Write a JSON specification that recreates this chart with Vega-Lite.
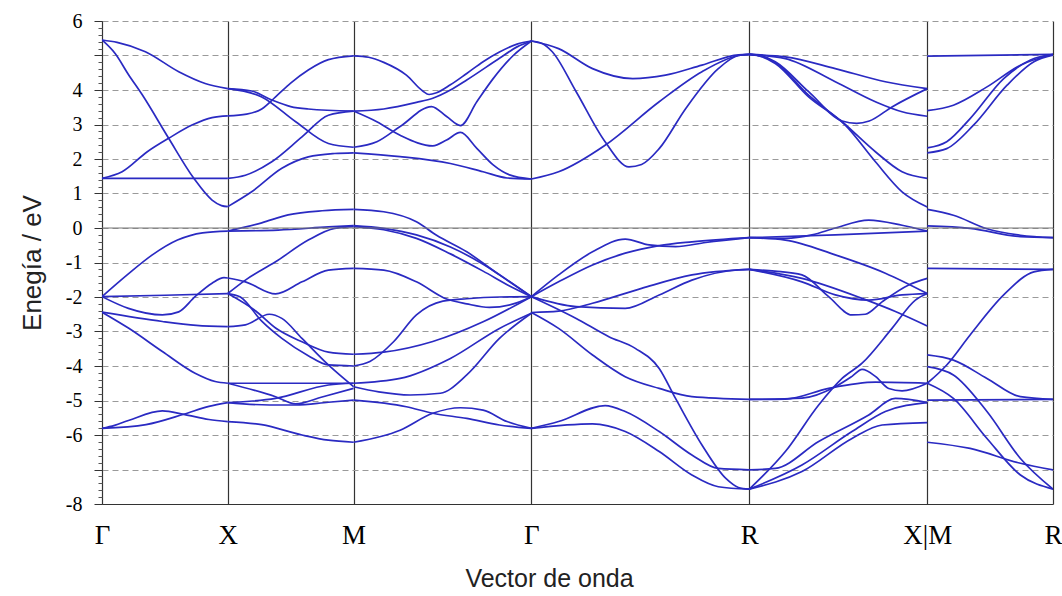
{
"$schema": "https://vega.github.io/schema/vega-lite/v6.json",
"width": 951, "height": 483,
"autosize": {"type": "none"},
"padding": {"left": 102, "top": 21, "right": 9, "bottom": 92},
"background": "white",
"config": {"view": {"stroke": null}},
"datasets": {"bands": [
{"b":"1a","k":0,"e":5.45},{"b":"1a","k":0.12,"e":5.38},{"b":"1a","k":0.345,"e":5.11},{"b":"1a","k":0.61,"e":4.53},{"b":"1a","k":0.82,"e":4.19},{"b":"1a","k":1,"e":4.04},
{"b":"1b","k":0,"e":5.45},{"b":"1b","k":0.106,"e":5.05},{"b":"1b","k":0.21,"e":4.45},{"b":"1b","k":0.32,"e":3.86},{"b":"1b","k":0.53,"e":2.6},{"b":"1b","k":0.73,"e":1.44},{"b":"1b","k":0.875,"e":0.81},{"b":"1b","k":0.95,"e":0.65},{"b":"1b","k":1,"e":0.62},
{"b":"1c","k":0,"e":1.44},{"b":"1c","k":0.16,"e":1.63},{"b":"1c","k":0.36,"e":2.21},{"b":"1c","k":0.53,"e":2.6},{"b":"1c","k":0.72,"e":2.99},{"b":"1c","k":0.875,"e":3.2},{"b":"1c","k":1,"e":3.25},
{"b":"1d","k":0,"e":1.44},{"b":"1d","k":1,"e":1.44},
{"b":"1e","k":0,"e":-1.99},{"b":"1e","k":0.2,"e":-1.36},{"b":"1e","k":0.4,"e":-0.78},{"b":"1e","k":0.6,"e":-0.35},{"b":"1e","k":0.8,"e":-0.14},{"b":"1e","k":1,"e":-0.09},
{"b":"1f","k":0,"e":-1.99},{"b":"1f","k":0.5,"e":-1.95},{"b":"1f","k":1,"e":-1.9},
{"b":"1g","k":0,"e":-1.99},{"b":"1g","k":0.21,"e":-2.33},{"b":"1g","k":0.48,"e":-2.52},{"b":"1g","k":0.61,"e":-2.43},{"b":"1g","k":0.74,"e":-1.99},{"b":"1g","k":0.875,"e":-1.6},{"b":"1g","k":0.97,"e":-1.44},{"b":"1g","k":1,"e":-1.45},
{"b":"1h","k":0,"e":-2.44},{"b":"1h","k":0.48,"e":-2.71},{"b":"1h","k":0.75,"e":-2.82},{"b":"1h","k":1,"e":-2.86},
{"b":"1i","k":0,"e":-2.44},{"b":"1i","k":0.21,"e":-2.9},{"b":"1i","k":0.48,"e":-3.58},{"b":"1i","k":0.74,"e":-4.21},{"b":"1i","k":0.9,"e":-4.45},{"b":"1i","k":1,"e":-4.5},
{"b":"1j","k":0,"e":-5.81},{"b":"1j","k":0.1,"e":-5.72},{"b":"1j","k":0.21,"e":-5.58},{"b":"1j","k":0.48,"e":-5.3},{"b":"1j","k":0.65,"e":-5.4},{"b":"1j","k":0.85,"e":-5.55},{"b":"1j","k":1,"e":-5.61},
{"b":"1k","k":0,"e":-5.81},{"b":"1k","k":0.35,"e":-5.7},{"b":"1k","k":0.65,"e":-5.4},{"b":"1k","k":0.85,"e":-5.17},{"b":"1k","k":1,"e":-5.06},
{"b":"2U1","k":1,"e":4.04},{"b":"2U1","k":1.19,"e":3.97},{"b":"2U1","k":1.35,"e":3.71},{"b":"2U1","k":1.5,"e":3.52},{"b":"2U1","k":1.64,"e":3.45},{"b":"2U1","k":2,"e":3.39},
{"b":"2U2","k":1,"e":4.04},{"b":"2U2","k":1.27,"e":3.8},{"b":"2U2","k":1.54,"e":3.08},{"b":"2U2","k":1.8,"e":2.45},{"b":"2U2","k":2,"e":2.34},
{"b":"2U3","k":1,"e":3.25},{"b":"2U3","k":1.15,"e":3.3},{"b":"2U3","k":1.27,"e":3.45},{"b":"2U3","k":1.38,"e":3.8},{"b":"2U3","k":1.5,"e":4.2},{"b":"2U3","k":1.64,"e":4.58},{"b":"2U3","k":1.8,"e":4.88},{"b":"2U3","k":2,"e":4.99},
{"b":"2U4","k":1,"e":1.44},{"b":"2U4","k":1.14,"e":1.53},{"b":"2U4","k":1.35,"e":1.92},{"b":"2U4","k":1.59,"e":2.64},{"b":"2U4","k":1.8,"e":3.27},{"b":"2U4","k":2,"e":3.39},
{"b":"2U5","k":1,"e":0.62},{"b":"2U5","k":1.19,"e":1.05},{"b":"2U5","k":1.43,"e":1.73},{"b":"2U5","k":1.64,"e":2.06},{"b":"2U5","k":1.85,"e":2.16},{"b":"2U5","k":2,"e":2.18},
{"b":"2L1","k":1,"e":-0.09},{"b":"2L1","k":1.27,"e":0.15},{"b":"2L1","k":1.48,"e":0.38},{"b":"2L1","k":1.75,"e":0.5},{"b":"2L1","k":2,"e":0.54},
{"b":"2L2","k":1,"e":-0.09},{"b":"2L2","k":1.4,"e":-0.06},{"b":"2L2","k":1.8,"e":0.03},{"b":"2L2","k":2,"e":0.07},
{"b":"2L3","k":1,"e":-1.9},{"b":"2L3","k":1.14,"e":-1.51},{"b":"2L3","k":1.38,"e":-0.98},{"b":"2L3","k":1.64,"e":-0.35},{"b":"2L3","k":1.85,"e":-0.01},{"b":"2L3","k":2,"e":0.04},
{"b":"2L4","k":1,"e":-1.45},{"b":"2L4","k":1.14,"e":-1.56},{"b":"2L4","k":1.38,"e":-1.91},{"b":"2L4","k":1.59,"e":-1.56},{"b":"2L4","k":1.8,"e":-1.22},{"b":"2L4","k":2,"e":-1.17},
{"b":"2L5","k":1,"e":-1.9},{"b":"2L5","k":1.22,"e":-2.4},{"b":"2L5","k":1.38,"e":-2.9},{"b":"2L5","k":1.59,"e":-3.3},{"b":"2L5","k":1.8,"e":-3.6},{"b":"2L5","k":2,"e":-3.66},
{"b":"2L6","k":1,"e":-1.9},{"b":"2L6","k":1.1,"e":-2.0},{"b":"2L6","k":1.27,"e":-2.7},{"b":"2L6","k":1.43,"e":-3.2},{"b":"2L6","k":1.64,"e":-3.7},{"b":"2L6","k":1.8,"e":-3.97},{"b":"2L6","k":2,"e":-4.0},
{"b":"2L7","k":1,"e":-2.86},{"b":"2L7","k":1.14,"e":-2.81},{"b":"2L7","k":1.33,"e":-2.5},{"b":"2L7","k":1.43,"e":-2.62},{"b":"2L7","k":1.59,"e":-3.2},{"b":"2L7","k":1.8,"e":-3.97},{"b":"2L7","k":2,"e":-4.6},
{"b":"2L8","k":1,"e":-4.5},{"b":"2L8","k":2,"e":-4.5},
{"b":"2L9","k":1,"e":-4.5},{"b":"2L9","k":1.38,"e":-4.89},{"b":"2L9","k":1.54,"e":-5.1},{"b":"2L9","k":1.75,"e":-4.9},{"b":"2L9","k":2,"e":-4.65},
{"b":"2L10","k":1,"e":-5.06},{"b":"2L10","k":1.38,"e":-4.94},{"b":"2L10","k":1.8,"e":-4.55},{"b":"2L10","k":2,"e":-4.5},
{"b":"2L11","k":1,"e":-5.06},{"b":"2L11","k":1.33,"e":-5.13},{"b":"2L11","k":1.54,"e":-5.13},{"b":"2L11","k":1.8,"e":-5.05},{"b":"2L11","k":2,"e":-4.99},
{"b":"2L12","k":1,"e":-5.61},{"b":"2L12","k":1.27,"e":-5.7},{"b":"2L12","k":1.59,"e":-6.0},{"b":"2L12","k":1.8,"e":-6.15},{"b":"2L12","k":2,"e":-6.21},
{"b":"3U1","k":2,"e":4.99},{"b":"3U1","k":2.12,"e":4.95},{"b":"3U1","k":2.24,"e":4.8},{"b":"3U1","k":2.42,"e":4.43},{"b":"3U1","k":2.55,"e":3.97},{"b":"3U1","k":2.6,"e":3.87},{"b":"3U1","k":2.66,"e":3.92},{"b":"3U1","k":2.77,"e":4.15},{"b":"3U1","k":2.9,"e":4.48},{"b":"3U1","k":3.03,"e":4.82},{"b":"3U1","k":3.16,"e":5.1},{"b":"3U1","k":3.3,"e":5.33},{"b":"3U1","k":3.414,"e":5.42},
{"b":"3U2","k":2,"e":3.39},{"b":"3U2","k":2.24,"e":3.45},{"b":"3U2","k":2.5,"e":3.64},{"b":"3U2","k":2.63,"e":3.76},{"b":"3U2","k":2.77,"e":4.0},{"b":"3U2","k":2.9,"e":4.29},{"b":"3U2","k":3.16,"e":4.92},{"b":"3U2","k":3.3,"e":5.25},{"b":"3U2","k":3.414,"e":5.42},
{"b":"3U3","k":2,"e":3.39},{"b":"3U3","k":2.185,"e":3.08},{"b":"3U3","k":2.37,"e":2.69},{"b":"3U3","k":2.63,"e":2.38},{"b":"3U3","k":2.74,"e":2.55},{"b":"3U3","k":2.85,"e":2.77},{"b":"3U3","k":2.98,"e":2.31},{"b":"3U3","k":3.11,"e":1.83},{"b":"3U3","k":3.24,"e":1.54},{"b":"3U3","k":3.414,"e":1.42},
{"b":"3U4","k":2,"e":2.34},{"b":"3U4","k":2.185,"e":2.5},{"b":"3U4","k":2.37,"e":2.94},{"b":"3U4","k":2.62,"e":3.52},{"b":"3U4","k":2.74,"e":3.23},{"b":"3U4","k":2.85,"e":2.97},{"b":"3U4","k":2.98,"e":3.66},{"b":"3U4","k":3.11,"e":4.33},{"b":"3U4","k":3.27,"e":5.0},{"b":"3U4","k":3.414,"e":5.42},
{"b":"3U5","k":2,"e":2.18},{"b":"3U5","k":2.37,"e":2.07},{"b":"3U5","k":2.77,"e":1.87},{"b":"3U5","k":3.03,"e":1.63},{"b":"3U5","k":3.22,"e":1.45},{"b":"3U5","k":3.414,"e":1.42},
{"b":"3L1","k":2,"e":0.54},{"b":"3L1","k":2.24,"e":0.47},{"b":"3L1","k":2.5,"e":0.18},{"b":"3L1","k":2.66,"e":-0.21},{"b":"3L1","k":2.9,"e":-0.69},{"b":"3L1","k":3.16,"e":-1.36},{"b":"3L1","k":3.414,"e":-1.99},
{"b":"3L2","k":2,"e":0.07},{"b":"3L2","k":2.24,"e":-0.01},{"b":"3L2","k":2.5,"e":-0.2},{"b":"3L2","k":2.77,"e":-0.55},{"b":"3L2","k":3.03,"e":-1.05},{"b":"3L2","k":3.24,"e":-1.55},{"b":"3L2","k":3.414,"e":-1.99},
{"b":"3L3","k":2,"e":0.04},{"b":"3L3","k":2.24,"e":-0.05},{"b":"3L3","k":2.5,"e":-0.3},{"b":"3L3","k":2.77,"e":-0.75},{"b":"3L3","k":3.03,"e":-1.25},{"b":"3L3","k":3.24,"e":-1.68},{"b":"3L3","k":3.414,"e":-1.99},
{"b":"3L4","k":2,"e":-1.17},{"b":"3L4","k":2.24,"e":-1.22},{"b":"3L4","k":2.5,"e":-1.56},{"b":"3L4","k":2.74,"e":-2.06},{"b":"3L4","k":2.9,"e":-2.2},{"b":"3L4","k":3.08,"e":-2.3},{"b":"3L4","k":3.27,"e":-2.2},{"b":"3L4","k":3.414,"e":-1.99},
{"b":"3L5","k":2,"e":-3.66},{"b":"3L5","k":2.24,"e":-3.6},{"b":"3L5","k":2.63,"e":-3.29},{"b":"3L5","k":3.03,"e":-2.72},{"b":"3L5","k":3.414,"e":-1.99},
{"b":"3L6","k":2,"e":-4.0},{"b":"3L6","k":2.13,"e":-3.87},{"b":"3L6","k":2.32,"e":-3.29},{"b":"3L6","k":2.5,"e":-2.52},{"b":"3L6","k":2.71,"e":-2.12},{"b":"3L6","k":2.9,"e":-2.05},{"b":"3L6","k":3.16,"e":-2.0},{"b":"3L6","k":3.414,"e":-1.99},
{"b":"3L7","k":2,"e":-4.5},{"b":"3L7","k":2.37,"e":-4.36},{"b":"3L7","k":2.77,"e":-3.78},{"b":"3L7","k":3.16,"e":-2.91},{"b":"3L7","k":3.414,"e":-2.47},
{"b":"3L8","k":2,"e":-4.6},{"b":"3L8","k":2.2,"e":-4.75},{"b":"3L8","k":2.45,"e":-4.84},{"b":"3L8","k":2.69,"e":-4.79},{"b":"3L8","k":2.9,"e":-4.26},{"b":"3L8","k":3.16,"e":-3.2},{"b":"3L8","k":3.414,"e":-2.47},
{"b":"3L9","k":2,"e":-4.99},{"b":"3L9","k":2.42,"e":-5.18},{"b":"3L9","k":2.63,"e":-5.37},{"b":"3L9","k":2.9,"e":-5.52},{"b":"3L9","k":3.16,"e":-5.71},{"b":"3L9","k":3.414,"e":-5.81},
{"b":"3L10","k":2,"e":-6.21},{"b":"3L10","k":2.37,"e":-5.86},{"b":"3L10","k":2.63,"e":-5.37},{"b":"3L10","k":2.85,"e":-5.21},{"b":"3L10","k":3.03,"e":-5.28},{"b":"3L10","k":3.22,"e":-5.61},{"b":"3L10","k":3.414,"e":-5.81},
{"b":"4U1","k":3.414,"e":5.42},{"b":"4U1","k":3.63,"e":5.2},{"b":"4U1","k":3.9,"e":4.62},{"b":"4U1","k":4.22,"e":4.33},{"b":"4U1","k":4.48,"e":4.43},{"b":"4U1","k":4.77,"e":4.72},{"b":"4U1","k":5.06,"e":5.02},{"b":"4U1","k":5.146,"e":5.03},
{"b":"4U2","k":3.414,"e":5.42},{"b":"4U2","k":3.5,"e":5.35},{"b":"4U2","k":3.58,"e":5.11},{"b":"4U2","k":3.77,"e":3.95},{"b":"4U2","k":4.0,"e":2.5},{"b":"4U2","k":4.19,"e":1.77},{"b":"4U2","k":4.29,"e":1.84},{"b":"4U2","k":4.43,"e":2.3},{"b":"4U2","k":4.64,"e":3.46},{"b":"4U2","k":4.9,"e":4.62},{"b":"4U2","k":5.06,"e":5.0},{"b":"4U2","k":5.146,"e":5.03},
{"b":"4U3","k":3.414,"e":1.42},{"b":"4U3","k":3.63,"e":1.63},{"b":"4U3","k":4.0,"e":2.4},{"b":"4U3","k":4.43,"e":3.66},{"b":"4U3","k":4.77,"e":4.53},{"b":"4U3","k":5.06,"e":5.0},{"b":"4U3","k":5.146,"e":5.03},
{"b":"4L1","k":3.414,"e":-1.99},{"b":"4L1","k":3.63,"e":-1.36},{"b":"4L1","k":3.9,"e":-0.69},{"b":"4L1","k":4.16,"e":-0.32},{"b":"4L1","k":4.35,"e":-0.49},{"b":"4L1","k":4.56,"e":-0.54},{"b":"4L1","k":4.8,"e":-0.42},{"b":"4L1","k":5.146,"e":-0.28},
{"b":"4L2","k":3.414,"e":-1.99},{"b":"4L2","k":3.63,"e":-1.56},{"b":"4L2","k":3.9,"e":-1.07},{"b":"4L2","k":4.16,"e":-0.73},{"b":"4L2","k":4.43,"e":-0.51},{"b":"4L2","k":4.69,"e":-0.4},{"b":"4L2","k":5.146,"e":-0.28},
{"b":"4L3","k":3.414,"e":-1.99},{"b":"4L3","k":3.77,"e":-2.28},{"b":"4L3","k":4.16,"e":-2.33},{"b":"4L3","k":4.43,"e":-1.94},{"b":"4L3","k":4.69,"e":-1.51},{"b":"4L3","k":5.06,"e":-1.21},{"b":"4L3","k":5.146,"e":-1.2},
{"b":"4L4","k":3.414,"e":-2.45},{"b":"4L4","k":3.63,"e":-2.41},{"b":"4L4","k":3.9,"e":-2.18},{"b":"4L4","k":4.29,"e":-1.75},{"b":"4L4","k":4.69,"e":-1.36},{"b":"4L4","k":5.146,"e":-1.2},
{"b":"4L5","k":3.414,"e":-1.99},{"b":"4L5","k":3.77,"e":-2.62},{"b":"4L5","k":4.03,"e":-3.15},{"b":"4L5","k":4.24,"e":-3.49},{"b":"4L5","k":4.43,"e":-4.07},{"b":"4L5","k":4.56,"e":-4.94},{"b":"4L5","k":4.77,"e":-6.29},{"b":"4L5","k":4.96,"e":-7.26},{"b":"4L5","k":5.06,"e":-7.52},{"b":"4L5","k":5.146,"e":-7.57},
{"b":"4L6","k":3.414,"e":-2.45},{"b":"4L6","k":3.63,"e":-2.91},{"b":"4L6","k":3.9,"e":-3.68},{"b":"4L6","k":4.16,"e":-4.31},{"b":"4L6","k":4.43,"e":-4.65},{"b":"4L6","k":4.69,"e":-4.89},{"b":"4L6","k":5.146,"e":-4.97},
{"b":"4L7","k":3.414,"e":-5.81},{"b":"4L7","k":3.63,"e":-5.61},{"b":"4L7","k":4.0,"e":-5.15},{"b":"4L7","k":4.16,"e":-5.32},{"b":"4L7","k":4.43,"e":-5.9},{"b":"4L7","k":4.69,"e":-6.58},{"b":"4L7","k":4.9,"e":-6.97},{"b":"4L7","k":5.146,"e":-7.01},
{"b":"4L8","k":3.414,"e":-5.81},{"b":"4L8","k":3.9,"e":-5.68},{"b":"4L8","k":4.16,"e":-5.9},{"b":"4L8","k":4.43,"e":-6.48},{"b":"4L8","k":4.69,"e":-7.16},{"b":"4L8","k":4.9,"e":-7.5},{"b":"4L8","k":5.146,"e":-7.57},
{"b":"5U1","k":5.146,"e":5.03},{"b":"5U1","k":5.433,"e":4.96},{"b":"5U1","k":5.83,"e":4.62},{"b":"5U1","k":6.228,"e":4.24},{"b":"5U1","k":6.561,"e":4.04},
{"b":"5U2","k":5.146,"e":5.03},{"b":"5U2","k":5.433,"e":4.91},{"b":"5U2","k":5.83,"e":4.24},{"b":"5U2","k":6.149,"e":3.66},{"b":"5U2","k":6.361,"e":3.37},{"b":"5U2","k":6.561,"e":3.24},
{"b":"5U3","k":5.146,"e":5.03},{"b":"5U3","k":5.25,"e":4.98},{"b":"5U3","k":5.353,"e":4.82},{"b":"5U3","k":5.618,"e":3.95},{"b":"5U3","k":5.884,"e":3.1},{"b":"5U3","k":6.0,"e":3.03},{"b":"5U3","k":6.1,"e":3.1},{"b":"5U3","k":6.281,"e":3.51},{"b":"5U3","k":6.561,"e":4.04},
{"b":"5U4","k":5.146,"e":5.03},{"b":"5U4","k":5.25,"e":4.97},{"b":"5U4","k":5.353,"e":4.8},{"b":"5U4","k":5.618,"e":3.85},{"b":"5U4","k":5.884,"e":3.08},{"b":"5U4","k":6.149,"e":2.21},{"b":"5U4","k":6.361,"e":1.63},{"b":"5U4","k":6.561,"e":1.44},
{"b":"5U5","k":5.146,"e":5.03},{"b":"5U5","k":5.25,"e":4.96},{"b":"5U5","k":5.353,"e":4.77},{"b":"5U5","k":5.618,"e":3.8},{"b":"5U5","k":5.91,"e":2.98},{"b":"5U5","k":6.149,"e":1.92},{"b":"5U5","k":6.361,"e":1.05},{"b":"5U5","k":6.561,"e":0.61},
{"b":"5L1","k":5.146,"e":-0.28},{"b":"5L1","k":5.433,"e":-0.3},{"b":"5L1","k":5.645,"e":-0.2},{"b":"5L1","k":5.83,"e":0.0},{"b":"5L1","k":6.096,"e":0.23},{"b":"5L1","k":6.361,"e":0.08},{"b":"5L1","k":6.561,"e":-0.09},
{"b":"5L2","k":5.146,"e":-0.28},{"b":"5L2","k":5.83,"e":-0.2},{"b":"5L2","k":6.561,"e":-0.09},
{"b":"5L3","k":5.146,"e":-0.28},{"b":"5L3","k":5.433,"e":-0.35},{"b":"5L3","k":5.83,"e":-0.78},{"b":"5L3","k":6.228,"e":-1.31},{"b":"5L3","k":6.561,"e":-1.9},
{"b":"5L4","k":5.146,"e":-1.2},{"b":"5L4","k":5.35,"e":-1.25},{"b":"5L4","k":5.565,"e":-1.36},{"b":"5L4","k":5.777,"e":-1.99},{"b":"5L4","k":5.963,"e":-2.52},{"b":"5L4","k":6.069,"e":-2.5},{"b":"5L4","k":6.202,"e":-2.14},{"b":"5L4","k":6.414,"e":-1.65},{"b":"5L4","k":6.561,"e":-1.46},
{"b":"5L5","k":5.146,"e":-1.2},{"b":"5L5","k":5.565,"e":-1.46},{"b":"5L5","k":6.043,"e":-2.04},{"b":"5L5","k":6.308,"e":-2.42},{"b":"5L5","k":6.561,"e":-2.84},
{"b":"5L6","k":5.146,"e":-1.2},{"b":"5L6","k":5.565,"e":-1.56},{"b":"5L6","k":5.83,"e":-1.94},{"b":"5L6","k":6.096,"e":-2.09},{"b":"5L6","k":6.361,"e":-1.94},{"b":"5L6","k":6.561,"e":-1.9},
{"b":"5L7","k":5.146,"e":-4.97},{"b":"5L7","k":5.433,"e":-4.96},{"b":"5L7","k":5.777,"e":-4.65},{"b":"5L7","k":6.149,"e":-4.47},{"b":"5L7","k":6.561,"e":-4.5},
{"b":"5L8","k":5.146,"e":-4.97},{"b":"5L8","k":5.565,"e":-4.93},{"b":"5L8","k":5.83,"e":-4.6},{"b":"5L8","k":5.963,"e":-4.3},{"b":"5L8","k":6.043,"e":-4.1},{"b":"5L8","k":6.149,"e":-4.3},{"b":"5L8","k":6.255,"e":-4.65},{"b":"5L8","k":6.361,"e":-4.72},{"b":"5L8","k":6.561,"e":-4.5},
{"b":"5L9","k":5.146,"e":-7.57},{"b":"5L9","k":5.433,"e":-6.48},{"b":"5L9","k":5.698,"e":-5.13},{"b":"5L9","k":5.884,"e":-4.36},{"b":"5L9","k":6.043,"e":-3.92},{"b":"5L9","k":6.281,"e":-2.91},{"b":"5L9","k":6.467,"e":-2.09},{"b":"5L9","k":6.561,"e":-1.9},
{"b":"5L10","k":5.146,"e":-7.01},{"b":"5L10","k":5.353,"e":-6.97},{"b":"5L10","k":5.698,"e":-6.19},{"b":"5L10","k":6.096,"e":-5.42},{"b":"5L10","k":6.308,"e":-4.94},{"b":"5L10","k":6.561,"e":-5.06},
{"b":"5L11","k":5.146,"e":-7.57},{"b":"5L11","k":5.565,"e":-7.06},{"b":"5L11","k":5.963,"e":-6.1},{"b":"5L11","k":6.202,"e":-5.71},{"b":"5L11","k":6.561,"e":-5.64},
{"b":"5L12","k":5.146,"e":-7.57},{"b":"5L12","k":5.565,"e":-6.87},{"b":"5L12","k":5.963,"e":-5.9},{"b":"5L12","k":6.228,"e":-5.32},{"b":"5L12","k":6.561,"e":-5.06},
{"b":"6U1","k":6.561,"e":4.98},{"b":"6U1","k":7.561,"e":5.03},
{"b":"6U2","k":6.561,"e":3.4},{"b":"6U2","k":6.769,"e":3.56},{"b":"6U2","k":7.036,"e":4.09},{"b":"6U2","k":7.302,"e":4.72},{"b":"6U2","k":7.561,"e":5.03},
{"b":"6U3","k":6.561,"e":2.32},{"b":"6U3","k":6.716,"e":2.5},{"b":"6U3","k":6.902,"e":3.17},{"b":"6U3","k":7.169,"e":4.33},{"b":"6U3","k":7.382,"e":4.87},{"b":"6U3","k":7.561,"e":5.03},
{"b":"6U4","k":6.561,"e":2.18},{"b":"6U4","k":6.716,"e":2.3},{"b":"6U4","k":6.929,"e":2.98},{"b":"6U4","k":7.196,"e":4.14},{"b":"6U4","k":7.409,"e":4.82},{"b":"6U4","k":7.561,"e":5.01},
{"b":"6L1","k":6.561,"e":0.54},{"b":"6L1","k":6.769,"e":0.37},{"b":"6L1","k":7.036,"e":-0.02},{"b":"6L1","k":7.302,"e":-0.21},{"b":"6L1","k":7.561,"e":-0.28},
{"b":"6L2","k":6.561,"e":0.06},{"b":"6L2","k":6.902,"e":-0.01},{"b":"6L2","k":7.302,"e":-0.25},{"b":"6L2","k":7.561,"e":-0.28},
{"b":"6L3","k":6.561,"e":-1.17},{"b":"6L3","k":7.561,"e":-1.2},
{"b":"6L4","k":6.561,"e":-4.5},{"b":"6L4","k":6.716,"e":-3.97},{"b":"6L4","k":6.902,"e":-3.1},{"b":"6L4","k":7.169,"e":-1.94},{"b":"6L4","k":7.409,"e":-1.27},{"b":"6L4","k":7.561,"e":-1.2},
{"b":"6L5","k":6.561,"e":-3.68},{"b":"6L5","k":6.769,"e":-3.83},{"b":"6L5","k":7.036,"e":-4.36},{"b":"6L5","k":7.302,"e":-4.89},{"b":"6L5","k":7.561,"e":-4.97},
{"b":"6L6","k":6.561,"e":-4.02},{"b":"6L6","k":6.769,"e":-4.26},{"b":"6L6","k":7.036,"e":-5.32},{"b":"6L6","k":7.302,"e":-6.68},{"b":"6L6","k":7.561,"e":-7.57},
{"b":"6L7","k":6.561,"e":-4.99},{"b":"6L7","k":7.561,"e":-4.97},
{"b":"6L8","k":6.561,"e":-4.5},{"b":"6L8","k":6.769,"e":-4.94},{"b":"6L8","k":7.036,"e":-6.1},{"b":"6L8","k":7.302,"e":-7.16},{"b":"6L8","k":7.561,"e":-7.57},
{"b":"6L9","k":6.561,"e":-6.21},{"b":"6L9","k":6.902,"e":-6.39},{"b":"6L9","k":7.302,"e":-6.82},{"b":"6L9","k":7.561,"e":-7.01}
]},
"layer": [
{
"data": {"name": "bands"},
"mark": {"type": "line", "interpolate": "monotone", "color": "#2a2ac2", "strokeWidth": 1.7, "clip": true},
"encoding": {
"x": {"field": "k", "type": "quantitative",
"scale": {"domain": [0, 7.561], "nice": false, "zero": false},
"axis": {"values": [0, 1, 2, 3.414, 5.146, 6.561, 7.561],
"labelExpr": "datum.value < 0.5 ? 'Γ' : datum.value < 1.5 ? 'X' : datum.value < 2.5 ? 'M' : datum.value < 4 ? 'Γ' : datum.value < 6 ? 'R' : datum.value < 7 ? 'X|M' : 'R'",
"labelFont": "Liberation Serif", "labelFontSize": 27, "labelColor": "#000", "labelPadding": 18, "labelOverlap": false, "labelFlush": false,
"ticks": false, "domainColor": "#333", "domainWidth": 1,
"grid": true, "gridColor": "#333", "gridWidth": 1.2, "gridOpacity": 1,
"title": "Vector de onda", "titleFont": "Liberation Sans", "titleFontSize": 25, "titleFontWeight": "normal", "titleColor": "#222", "titlePadding": 18, "titleX": 447}},
"y": {"field": "e", "type": "quantitative",
"scale": {"domain": [-8, 6], "nice": false, "zero": false},
"axis": {"values": [-8, -7, -6, -5, -4, -3, -2, -1, 0, 1, 2, 3, 4, 5, 6],
"labelExpr": "datum.value == 5 || datum.value == -7 ? '' : '' + datum.value",
"labelFont": "Liberation Serif", "labelFontSize": 20, "labelColor": "#000", "labelPadding": 12,
"tickSize": 8, "tickColor": "#333", "domainColor": "#333",
"grid": true, "gridColor": "#9a9a9a", "gridDash": [6, 4], "gridWidth": 1,
"title": "Enegía / eV", "titleFont": "Liberation Sans", "titleFontSize": 26, "titleFontWeight": "normal", "titleColor": "#222", "titlePadding": 20}},
"detail": {"field": "b"}
}
},
{
"data": {"values": [{}]},
"mark": {"type": "rule", "color": "#777", "strokeWidth": 1},
"encoding": {
"y": {"datum": 0, "type": "quantitative",
"axis": {"orient": "left", "values": [-7.8,-7.6,-7.4,-7.2,-6.8,-6.6,-6.4,-6.2,-5.8,-5.6,-5.4,-5.2,-4.8,-4.6,-4.4,-4.2,-3.8,-3.6,-3.4,-3.2,-2.8,-2.6,-2.4,-2.2,-1.8,-1.6,-1.4,-1.2,-0.8,-0.6,-0.4,-0.2,0.2,0.4,0.6,0.8,1.2,1.4,1.6,1.8,2.2,2.4,2.6,2.8,3.2,3.4,3.6,3.8,4.2,4.4,4.6,4.8,5.2,5.4,5.6,5.8],
"labels": false, "grid": false, "domain": false, "tickSize": 4, "tickColor": "#555", "title": null}}
}
}
],
"resolve": {"axis": {"y": "independent"}}
}
